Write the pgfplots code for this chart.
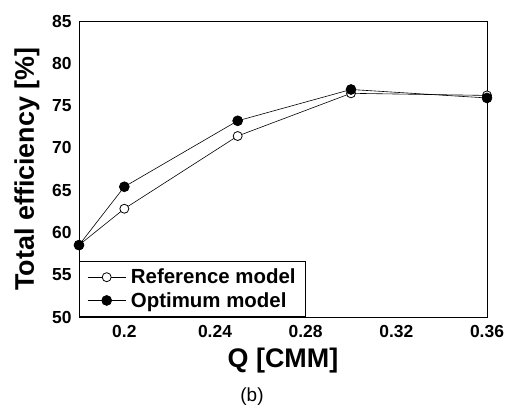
\documentclass[border=0pt]{standalone}
\usepackage{fontspec}
\setmainfont{Liberation Sans}
\usepackage{pgfplots}
\pgfplotsset{compat=1.18}

\begin{document}
\begin{tikzpicture}
\begin{axis}[
  scale only axis, width=408bp, height=296bp,
  xmin=0.18, xmax=0.36, ymin=50, ymax=85,
  xtick={0.2,0.24,0.28,0.32,0.36},
  ytick={50,55,...,85},
  major tick length=0pt,
  /pgf/number format/assume math mode=true,
  tick label style={font=\fontsize{17.5}{19}\selectfont\bfseries},
  yticklabel style={xshift=-4bp},
  xticklabel style={yshift=-5bp},
  xlabel={Q [CMM]}, ylabel={Total efficiency [\%]},
  label style={font=\fontsize{27}{30}\selectfont\bfseries},
  xlabel style={at={(axis description cs:0.5,-0.172)},anchor=base},
  ylabel style={at={(axis description cs:-0.1275,0.5)},anchor=center},
  axis line style={black, line width=0.8pt},
  clip=false,
  legend style={at={(0,0)}, anchor=south west, draw=black, line width=0.8pt,
    font=\fontsize{20.5}{23}\selectfont\bfseries, inner xsep=8bp, inner ysep=6bp,
    row sep=3bp, /tikz/every odd column/.append style={column sep=3bp}},
  legend cell align=left,
  legend image code/.code={%
    \draw[mark repeat=2,mark phase=2] plot coordinates {(0bp,0bp) (19bp,0bp) (38bp,0bp)};},
]
\addplot[black, line width=0.6pt, mark=*, mark size=4.5bp,
  mark options={fill=white, line width=0.8pt}] coordinates {
(0.18,58.5) (0.2,62.8) (0.25,71.4) (0.3,76.45) (0.36,76.2)
};
\addlegendentry{Reference model}
\addplot[black, line width=0.6pt, mark=*, mark size=5bp,
  mark options={fill=black}] coordinates {
(0.18,58.5) (0.2,65.4) (0.25,73.2) (0.3,76.9) (0.36,75.9)
};
\addlegendentry{Optimum model}
\end{axis}
\node[font=\fontsize{19}{22}\selectfont] at ([shift={(173bp,-80bp)}]current axis.south west) {(b)};
\pgfresetboundingbox
\path (current axis.south west) ++(-79bp,-93bp) rectangle ++(513bp,410bp);
\end{tikzpicture}
\end{document}
